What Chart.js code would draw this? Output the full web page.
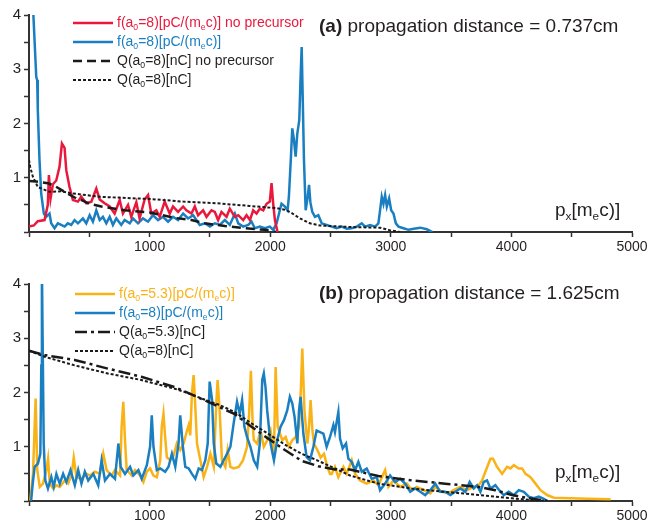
<!DOCTYPE html>
<html lang="en">

<head>
    <meta charset="UTF-8">
    <title>Momentum spectra</title>
    <script src="https://cdn.jsdelivr.net/npm/chart.js"></script>
    <style>
        body {
            margin: 0;
            background: #fff;
            font-family: "Liberation Sans", Arial, sans-serif;
            color: #231f20;
        }

        .panel {
            position: absolute;
            left: 0;
            width: 650px;
        }

        .title {
            position: absolute;
            font-size: 19px;
            line-height: 20px;
            white-space: nowrap;
        }

        .xlabel {
            position: absolute;
            font-size: 19px;
            line-height: 20px;
            white-space: nowrap;
        }

        .legend {
            position: absolute;
            font-size: 14px;
            line-height: 19px;
            white-space: nowrap;
        }

        .legend svg {
            vertical-align: middle;
            margin-right: 4px;
        }

        sub {
            font-size: 0.62em;
            vertical-align: -0.3em;
            line-height: 0;
        }
    </style>
</head>

<body>
    <div class="panel" style="top:0;height:262px"><canvas id="chartA"></canvas></div>
    <div class="panel" style="top:262px;height:265px"><canvas id="chartB"></canvas></div>

    <!-- panel (a) text -->
    <div class="title" style="left:319px;top:16px"><b>(a)</b> propagation distance = 0.737cm</div>
    <div class="legend" style="left:73px;top:13px">
        <div style="color:#e8193c"><svg width="40" height="8"><line x1="0" y1="4" x2="40" y2="4" stroke="#e8193c" stroke-width="2.5"/></svg>f(a<sub>0</sub>=8)[pC/(m<sub>e</sub>c)] no precursor</div>
        <div style="color:#1a7fc1"><svg width="40" height="8"><line x1="0" y1="4" x2="40" y2="4" stroke="#1a7fc1" stroke-width="2.5"/></svg>f(a<sub>0</sub>=8)[pC/(m<sub>e</sub>c)]</div>
        <div><svg width="40" height="8"><line x1="0" y1="4" x2="40" y2="4" stroke="#1a1a1a" stroke-width="2.5" stroke-dasharray="9,5"/></svg>Q(a<sub>0</sub>=8)[nC] no precursor</div>
        <div><svg width="40" height="8"><line x1="0" y1="4" x2="40" y2="4" stroke="#1a1a1a" stroke-width="2" stroke-dasharray="3,2"/></svg>Q(a<sub>0</sub>=8)[nC]</div>
    </div>
    <div class="xlabel" style="left:555px;top:200px">p<sub>x</sub>[m<sub>e</sub>c)]</div>

    <!-- panel (b) text -->
    <div class="title" style="left:319px;top:283px"><b>(b)</b> propagation distance = 1.625cm</div>
    <div class="legend" style="left:75px;top:284px">
        <div style="color:#f9b317"><svg width="40" height="8"><line x1="0" y1="4" x2="40" y2="4" stroke="#f9b317" stroke-width="2.5"/></svg>f(a<sub>0</sub>=5.3)[pC/(m<sub>e</sub>c)]</div>
        <div style="color:#1a7fc1"><svg width="40" height="8"><line x1="0" y1="4" x2="40" y2="4" stroke="#1a7fc1" stroke-width="2.5"/></svg>f(a<sub>0</sub>=8)[pC/(m<sub>e</sub>c)]</div>
        <div><svg width="40" height="8"><line x1="0" y1="4" x2="40" y2="4" stroke="#1a1a1a" stroke-width="2.5" stroke-dasharray="12,4,3,4"/></svg>Q(a<sub>0</sub>=5.3)[nC]</div>
        <div><svg width="40" height="8"><line x1="0" y1="4" x2="40" y2="4" stroke="#1a1a1a" stroke-width="2" stroke-dasharray="3,2"/></svg>Q(a<sub>0</sub>=8)[nC]</div>
    </div>
    <div class="xlabel" style="left:555px;top:462px">p<sub>x</sub>[m<sub>e</sub>c)]</div>

    <script>
        // [px, value] pairs
        // panel (a), 0.737 cm
        const aRedNoPre = [[0,0.1],[40,0.12],[73,0.2],[129,0.22],[156,0.5],[165,1.05],[179,0.62],[198,0.88],[226,0.95],[253,1.2],[273,1.63],[295,1.55],[309,1.14],[336,0.83],[364,0.59],[406,0.56],[433,0.65],[475,0.53],[517,0.56],[558,0.8],[586,0.6],[627,0.53],[669,0.47],[710,0.34],[752,0.59],[779,0.34],[821,0.5],[848,0.28],[890,0.55],[917,0.25],[959,0.6],[987,0.68],[1014,0.34],[1056,0.4],[1084,0.28],[1125,0.56],[1167,0.34],[1194,0.47],[1236,0.37],[1278,0.47],[1305,0.4],[1347,0.34],[1375,0.47],[1402,0.31],[1444,0.4],[1472,0.28],[1513,0.4],[1541,0.37],[1568,0.22],[1596,0.37],[1638,0.28],[1665,0.43],[1707,0.28],[1735,0.31],[1776,0.22],[1804,0.31],[1832,0.22],[1859,0.4],[1887,0.34],[1914,0.43],[1942,0.4],[1970,0.52],[1997,0.56],[2011,0.9],[2025,0.52],[2039,0.22],[2061,0]];
        const aBlue = [[30,4.6],[37,3.97],[60,2.86],[68,2.8],[73,2.25],[87,1.33],[101,0.71],[123,0.34],[142,0.28],[170,0.34],[184,0.16],[212,0.07],[239,0.16],[267,0.13],[295,0.1],[322,0.16],[350,0.13],[378,0.22],[406,0.16],[447,0.25],[475,0.16],[503,0.31],[530,0.19],[558,0.4],[586,0.22],[613,0.28],[641,0.16],[669,0.28],[696,0.13],[724,0.25],[765,0.13],[793,0.22],[835,0.16],[862,0.25],[904,0.16],[945,0.25],[987,0.19],[1028,0.31],[1070,0.22],[1111,0.28],[1153,0.19],[1194,0.28],[1236,0.22],[1278,0.34],[1319,0.25],[1361,0.31],[1416,0.13],[1458,0.16],[1500,0.1],[1541,0.16],[1582,0.13],[1624,0.22],[1665,0.13],[1707,0.34],[1735,0.16],[1776,0.1],[1818,0.13],[1845,0.19],[1873,0.07],[1914,0.1],[1956,0.07],[1997,0.1],[2025,0.04],[2053,0.16],[2080,0.4],[2094,0.52],[2122,0.47],[2144,0.4],[2155,0.65],[2172,1.39],[2183,1.91],[2197,1.7],[2211,1.39],[2225,1.82],[2241,2.06],[2252,2.86],[2261,3.41],[2269,2.55],[2280,1.33],[2294,0.4],[2311,0.65],[2322,0.87],[2333,0.55],[2349,0.37],[2371,0.28],[2399,0.31],[2427,0.16],[2468,0.13],[2510,0.1],[2551,0.07],[2593,0.1],[2635,0.06],[2676,0.07],[2718,0.1],[2759,0.16],[2787,0.1],[2828,0.13],[2870,0.1],[2897,0.16],[2911,0.4],[2925,0.65],[2939,0.52],[2953,0.68],[2967,0.47],[2986,0.62],[3003,0.4],[3022,0.34],[3042,0.16],[3064,0.1],[3105,0.07],[3147,0.04],[3190,0.06],[3244,0.08],[3299,0.05],[3345,0]];
        const aQNoPre = [[0,0.94],[60,0.93],[156,0.9],[220,0.84],[295,0.74],[392,0.62],[433,0.59],[500,0.52],[600,0.47],[793,0.4],[1001,0.36],[1209,0.26],[1347,0.22],[1458,0.16],[1624,0.11],[1790,0.07],[1956,0.04],[2045,0]];
        const aQ = [[0,1.33],[10,1.2],[32,1.02],[73,0.83],[170,0.74],[267,0.75],[364,0.71],[586,0.65],[862,0.62],[1001,0.61],[1278,0.56],[1554,0.53],[1831,0.48],[2053,0.44],[2120,0.41],[2164,0.37],[2247,0.25],[2330,0.16],[2413,0.12],[2496,0.11],[2689,0.09],[2911,0.08],[2994,0.03],[3078,0]];

        // panel (b), 1.625 cm
        const bYellow = [[11,0.01],[33,0.5],[55,1.89],[69,0.57],[89,0.26],[116,0.32],[144,0.57],[158,0.78],[172,0.32],[200,0.23],[227,0.29],[255,0.26],[297,0.38],[324,0.32],[352,0.47],[371,0.8],[394,0.44],[435,0.41],[477,0.5],[505,0.47],[546,0.54],[588,0.5],[616,0.87],[644,0.57],[685,0.47],[713,0.57],[755,0.47],[768,1.37],[782,1.83],[796,1.12],[810,0.57],[852,0.47],[879,0.57],[921,0.47],[949,0.35],[977,0.54],[1004,0.6],[1032,0.47],[1060,0.44],[1088,0.75],[1101,1.37],[1115,1.61],[1129,1.18],[1143,0.81],[1171,0.75],[1199,0.84],[1226,1.06],[1254,0.94],[1282,1.06],[1310,1.3],[1324,1.4],[1337,1.21],[1351,1.98],[1365,2.32],[1379,1.74],[1393,1.06],[1421,0.75],[1448,0.44],[1476,0.63],[1504,0.87],[1532,0.63],[1553,1.8],[1564,2.23],[1581,1.67],[1600,0.75],[1628,0.63],[1647,0.94],[1670,0.63],[1697,0.6],[1739,0.63],[1775,0.75],[1808,1.0],[1825,1.6],[1840,2.4],[1855,1.4],[1864,1.12],[1892,1.06],[1920,1.3],[1947,1.0],[1975,1.12],[2003,1.3],[2031,0.87],[2045,2.47],[2062,1.37],[2100,1.12],[2128,1.18],[2155,1.0],[2183,1.12],[2211,1.18],[2239,1.37],[2255,2.1],[2266,2.81],[2284,1.67],[2308,1.06],[2320,1.3],[2335,1.86],[2350,1.3],[2363,1.06],[2391,0.94],[2419,0.8],[2446,0.87],[2474,0.63],[2496,0.5],[2510,0.5],[2537,0.63],[2565,0.44],[2607,0.63],[2634,0.5],[2676,0.75],[2704,0.5],[2745,0.38],[2800,0.32],[2856,0.38],[2897,0.29],[2939,0.5],[2953,0.57],[2981,0.26],[3022,0.38],[3078,0.26],[3133,0.32],[3175,0.2],[3216,0.26],[3272,0.2],[3327,0.14],[3369,0.26],[3424,0.17],[3480,0.14],[3521,0.2],[3577,0.26],[3632,0.2],[3687,0.26],[3729,0.29],[3757,0.38],[3784,0.54],[3826,0.78],[3847,0.78],[3881,0.63],[3923,0.5],[3964,0.63],[3992,0.6],[4020,0.66],[4061,0.6],[4089,0.6],[4117,0.5],[4158,0.44],[4200,0.32],[4241,0.2],[4296,0.11],[4352,0.06],[4490,0.05],[4629,0.04],[4823,0.03]];
        const bBlue = [[18,0.01],[30,0.3],[47,0.63],[74,0.69],[94,0.87],[102,2.5],[107,4.3],[113,3.0],[122,1.06],[135,0.38],[157,0.23],[185,0.44],[205,0.26],[227,0.5],[255,0.32],[283,0.5],[310,0.35],[344,0.57],[380,0.29],[408,0.57],[435,0.32],[463,0.54],[491,0.38],[533,0.5],[574,0.29],[602,0.75],[630,0.38],[671,0.5],[713,0.41],[741,1.06],[760,0.63],[796,0.5],[838,0.63],[865,0.47],[907,0.57],[935,0.41],[977,0.66],[1004,1.0],[1018,1.58],[1032,1.0],[1060,0.57],[1088,0.6],[1129,0.54],[1157,0.63],[1185,0.87],[1213,0.63],[1240,1.06],[1254,1.58],[1276,1.0],[1296,0.63],[1324,0.6],[1351,0.5],[1379,0.41],[1407,0.6],[1434,0.57],[1462,0.75],[1482,1.06],[1498,2.2],[1518,1.86],[1532,1.06],[1553,0.69],[1587,0.63],[1614,0.75],[1642,0.87],[1670,1.0],[1697,1.43],[1725,1.83],[1747,1.61],[1767,1.86],[1786,1.37],[1808,1.18],[1836,1.0],[1864,0.75],[1892,0.63],[1914,1.06],[1934,2.23],[1947,2.35],[1961,2.1],[1975,1.67],[2003,1.06],[2031,0.75],[2058,1.12],[2086,1.37],[2114,1.49],[2141,1.67],[2163,1.92],[2183,1.8],[2202,1.55],[2225,1.06],[2239,1.67],[2252,1.92],[2275,1.24],[2302,0.81],[2330,0.75],[2358,1.0],[2385,1.3],[2413,1.27],[2441,1.24],[2468,1.0],[2496,1.18],[2524,1.4],[2537,1.27],[2565,1.64],[2579,1.15],[2601,0.97],[2629,1.06],[2648,0.78],[2676,0.72],[2704,0.57],[2731,0.72],[2759,0.54],[2800,0.6],[2842,0.41],[2884,0.44],[2911,0.2],[2953,0.32],[2994,0.47],[3036,0.35],[3078,0.41],[3119,0.32],[3161,0.17],[3202,0.23],[3244,0.17],[3285,0.11],[3327,0.2],[3369,0.32],[3410,0.17],[3452,0.17],[3493,0.11],[3535,0.17],[3577,0.23],[3618,0.17],[3654,0.35],[3687,0.23],[3715,0.29],[3743,0.17],[3770,0.35],[3798,0.38],[3826,0.23],[3867,0.29],[3909,0.17],[3937,0.11],[3978,0.17],[4020,0.11],[4061,0.2],[4103,0.17],[4144,0.08],[4186,0.05],[4227,0.08],[4269,0.04],[4296,0]];
        const bQ53 = [[0,2.77],[129,2.69],[378,2.6],[655,2.44],[932,2.29],[1208,2.1],[1333,1.98],[1513,1.8],[1707,1.6],[1845,1.37],[1983,1.15],[2122,0.94],[2261,0.74],[2399,0.64],[2537,0.58],[2662,0.58],[2897,0.46],[3174,0.38],[3451,0.32],[3728,0.26],[3866,0.2],[4005,0.11],[4143,0.05],[4300,0]];
        const bQ8 = [[0,2.77],[129,2.66],[378,2.5],[655,2.35],[932,2.23],[1208,2.07],[1291,2.01],[1430,1.89],[1568,1.78],[1707,1.64],[1845,1.43],[1983,1.24],[2122,1.04],[2261,0.87],[2399,0.74],[2537,0.6],[2662,0.47],[2897,0.32],[3174,0.23],[3451,0.17],[3728,0.11],[4005,0.05],[4200,0.01],[4300,0]];

        const RED = '#e8193c', BLUE = '#1a7fc1', YELLOW = '#f9b317', BLACK = '#1a1a1a';
        const DASH = [9, 5], DOT = [3, 2], DASHDOT = [12, 4, 3, 4];

        function pts(arr) {
            return arr.map(p => ({ x: p[0], y: p[1] }));
        }

        function series(arr, color, width, dash, order) {
            return {
                data: pts(arr),
                borderColor: color,
                borderWidth: width,
                borderDash: dash || [],
                pointRadius: 0,
                tension: 0,
                fill: false,
                order: order
            };
        }

        function makeOptions(padTop, xHeight) {
            const axisColor = '#333';
            return {
                responsive: true,
                maintainAspectRatio: false,
                animation: false,
                layout: { padding: { top: padTop, right: 18, left: 0, bottom: 0 } },
                plugins: { legend: { display: false }, tooltip: { enabled: false } },
                scales: {
                    x: {
                        type: 'linear',
                        min: 0,
                        max: 5000,
                        afterFit: s => { s.height = xHeight; },
                        ticks: {
                            stepSize: 500,
                            autoSkip: false,
                            maxRotation: 0,
                            padding: 2,
                            color: '#231f20',
                            font: { family: 'Liberation Sans, Arial, sans-serif', size: 14 },
                            callback: v => (v !== 0 && v % 1000 === 0) ? String(v) : ''
                        },
                        grid: { drawOnChartArea: false, tickLength: 5, tickColor: axisColor, tickWidth: 1.5 },
                        border: { color: axisColor, width: 2 }
                    },
                    y: {
                        min: 0,
                        max: 4,
                        afterFit: s => { s.width = 29; },
                        ticks: {
                            stepSize: 0.5,
                            autoSkip: false,
                            padding: 3,
                            color: '#231f20',
                            font: { family: 'Liberation Sans, Arial, sans-serif', size: 15 },
                            callback: v => (v !== 0 && Number.isInteger(v)) ? String(v) : ''
                        },
                        grid: { drawOnChartArea: false, tickLength: 5, tickColor: axisColor, tickWidth: 1.5 },
                        border: { color: axisColor, width: 2 }
                    }
                }
            };
        }

        // Panel (a)
        new Chart(document.getElementById('chartA'), {
            type: 'line',
            data: {
                datasets: [
                    series(aBlue, BLUE, 2.5, null, 3),
                    series(aRedNoPre, RED, 2.5, null, 2),
                    series(aQNoPre, BLACK, 2.5, DASH, 1),
                    series(aQ, BLACK, 2, DOT, 0)
                ]
            },
            options: makeOptions(15, 30)
        });

        // Panel (b)
        new Chart(document.getElementById('chartB'), {
            type: 'line',
            data: {
                datasets: [
                    series(bYellow, YELLOW, 2.5, null, 3),
                    series(bBlue, BLUE, 2.5, null, 2),
                    series(bQ53, BLACK, 2.5, DASHDOT, 1),
                    series(bQ8, BLACK, 2, DOT, 0)
                ]
            },
            options: makeOptions(22, 26)
        });
    </script>
</body>

</html>
